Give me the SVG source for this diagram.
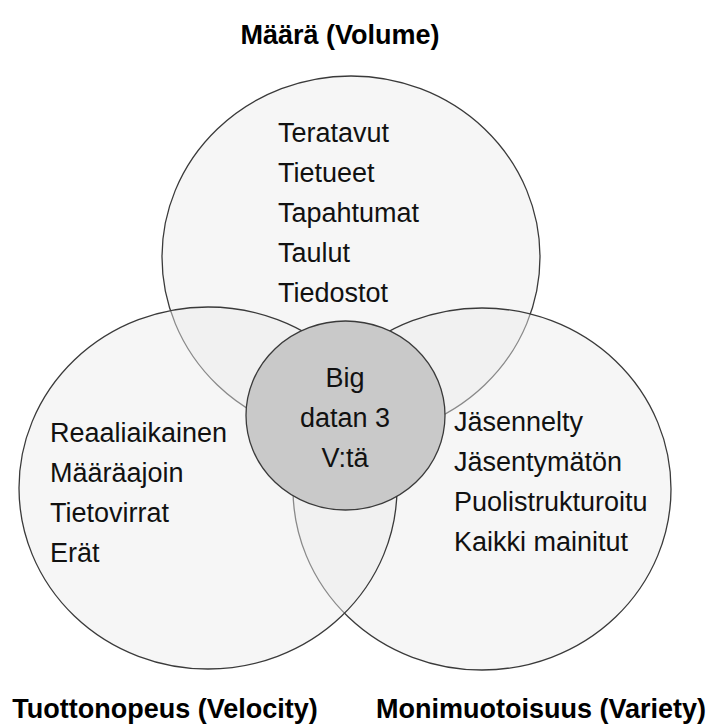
<svg xmlns="http://www.w3.org/2000/svg" width="710" height="726" viewBox="0 0 710 726">
  <style>
    .outer { fill: #ececec; fill-opacity: 0.45; stroke: #3a3a3a; stroke-width: 1.3; }
    .core { fill: #c9c9c9; stroke: #3a3a3a; stroke-width: 1.3; }
    .t { font-family: "Liberation Sans", Arial, sans-serif; font-size: 27px; fill: #111; }
    .c { text-anchor: middle; }
    .h { font-family: "Liberation Sans", Arial, sans-serif; font-size: 27px; font-weight: bold; fill: #000; text-anchor: middle; }
  </style>
  <rect width="710" height="726" fill="#ffffff"/>
  <g id="volume">
    <ellipse class="outer" cx="351" cy="257" rx="189" ry="181"/>
    <text class="h" x="340" y="44">Määrä (Volume)</text>
    <text class="t" x="278" y="142">Teratavut</text>
    <text class="t" x="278" y="182">Tietueet</text>
    <text class="t" x="278" y="222">Tapahtumat</text>
    <text class="t" x="278" y="262">Taulut</text>
    <text class="t" x="278" y="302">Tiedostot</text>
  </g>
  <g id="variety">
    <ellipse class="outer" cx="482" cy="489" rx="189" ry="181"/>
    <text class="h" x="541" y="718">Monimuotoisuus (Variety)</text>
    <text class="t" x="454" y="431">Jäsennelty</text>
    <text class="t" x="454" y="471">Jäsentymätön</text>
    <text class="t" x="454" y="511">Puolistrukturoitu</text>
    <text class="t" x="454" y="551">Kaikki mainitut</text>
  </g>
  <g id="velocity">
    <ellipse class="outer" cx="208" cy="488" rx="189" ry="181"/>
    <text class="h" x="165" y="718">Tuottonopeus (Velocity)</text>
    <text class="t" x="50" y="442">Reaaliaikainen</text>
    <text class="t" x="50" y="482">Määräajoin</text>
    <text class="t" x="50" y="522">Tietovirrat</text>
    <text class="t" x="50" y="562">Erät</text>
  </g>
  <g id="core">
    <ellipse class="core" cx="345.5" cy="415.5" rx="99.5" ry="94.5"/>
    <text class="t c" x="345" y="387">Big</text>
    <text class="t c" x="345" y="427">datan 3</text>
    <text class="t c" x="345" y="467">V:tä</text>
  </g>
  <g id="connectors"/>
</svg>
